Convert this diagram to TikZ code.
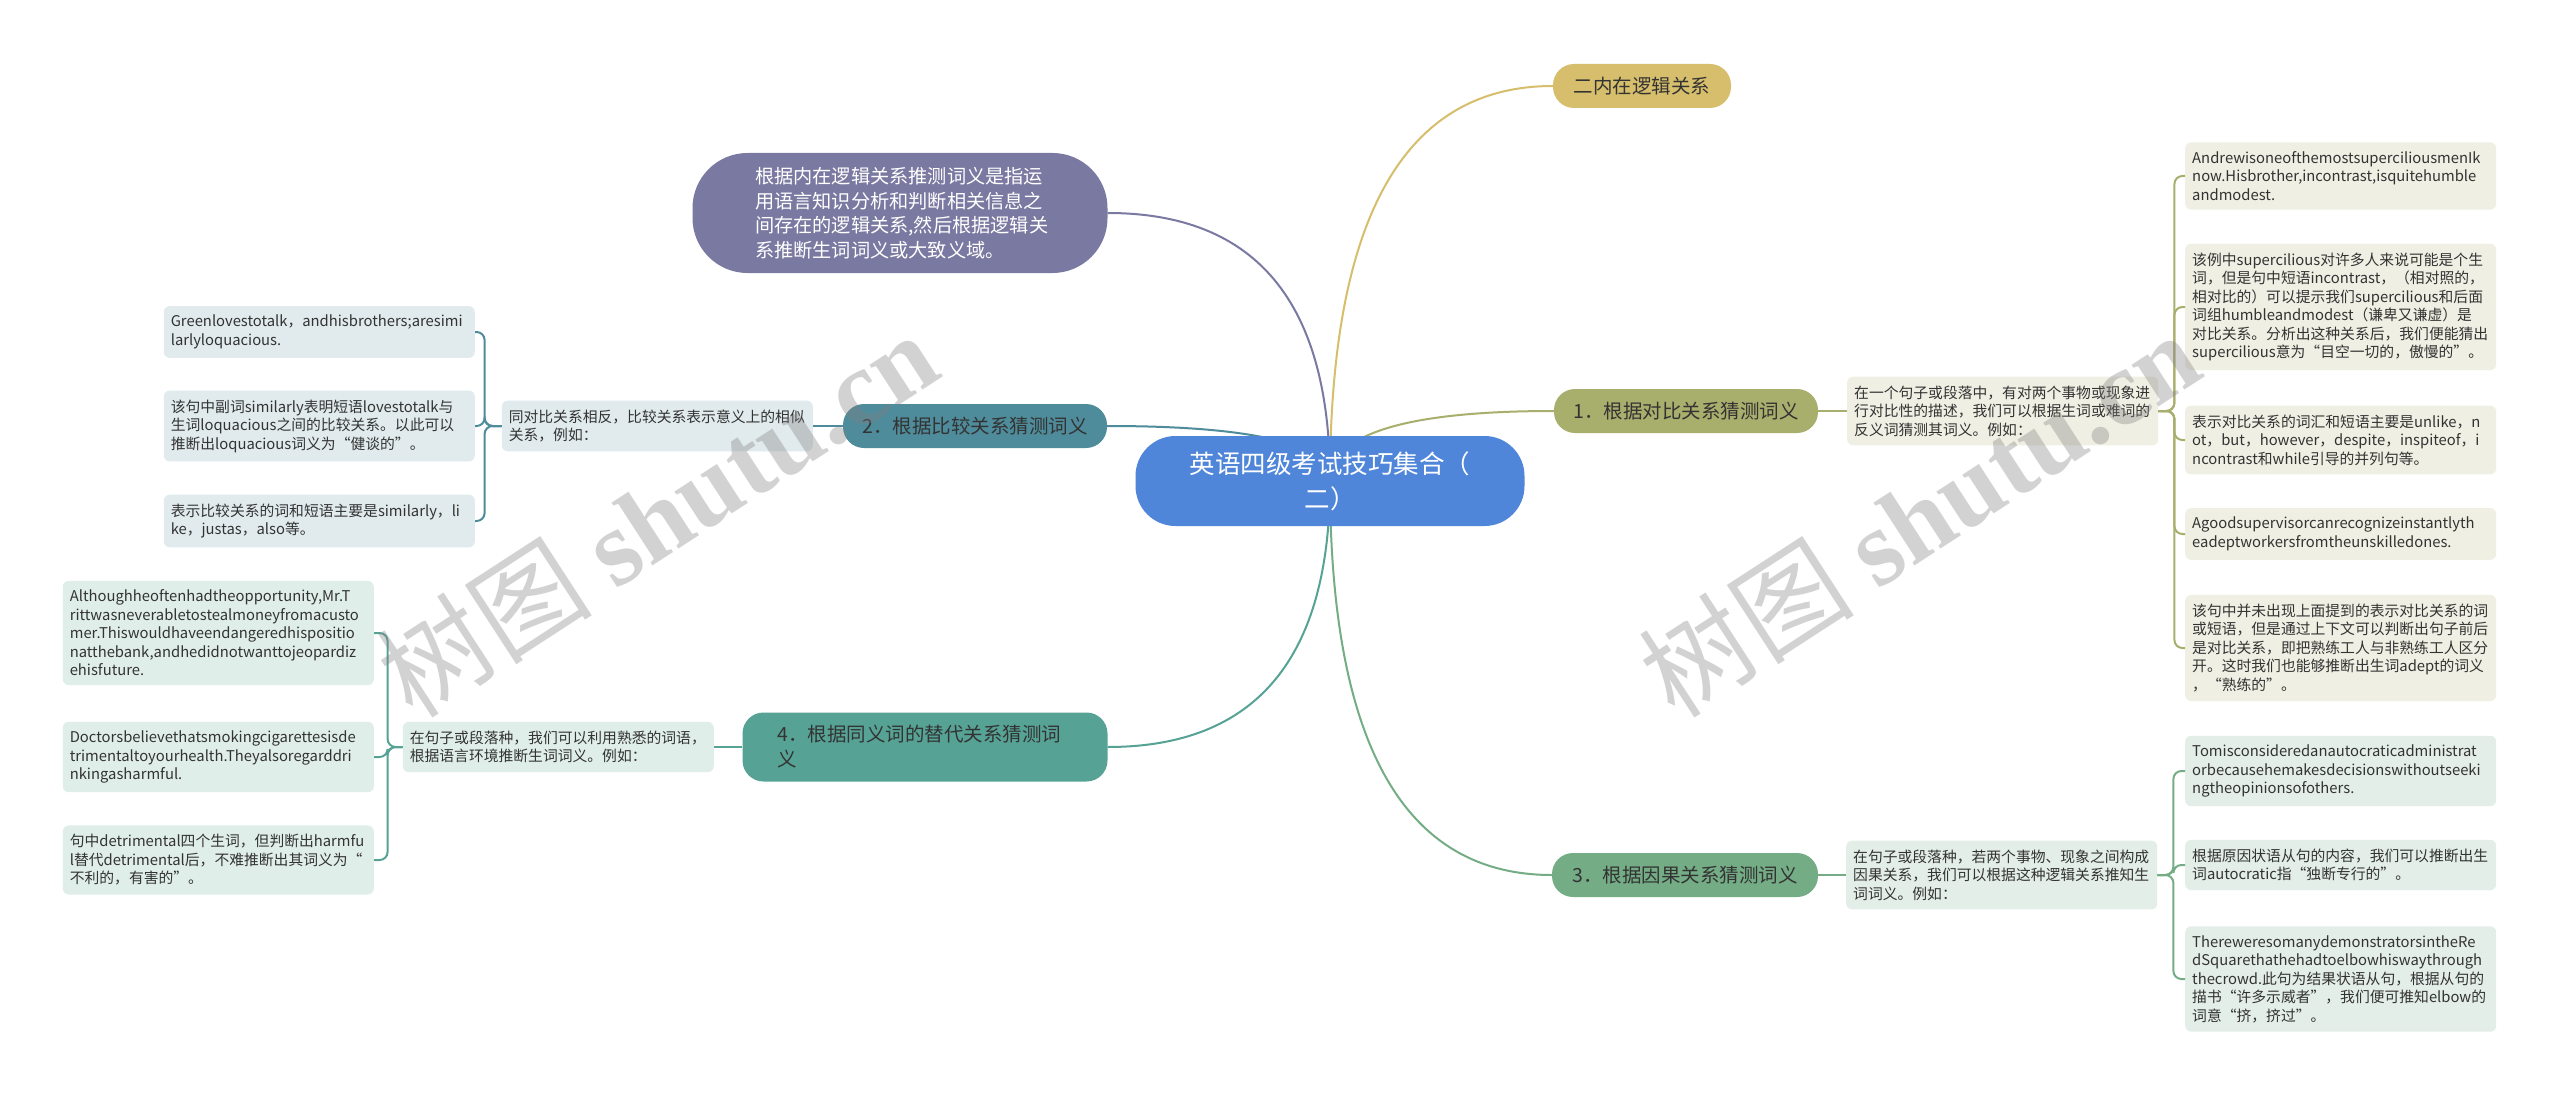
\documentclass[tikz,border=0pt]{standalone}
\usepackage{fontspec}
\setmainfont{Noto Sans CJK SC}
\newfontfamily\markfont{Liberation Serif}
\usetikzlibrary{calc,backgrounds}

\definecolor{rootblue}{RGB}{79,134,217}
\definecolor{slate}{RGB}{122,121,161}
\definecolor{sand}{RGB}{214,190,108}
\definecolor{moss}{RGB}{168,174,108}
\definecolor{seablue}{RGB}{79,140,155}
\definecolor{fern}{RGB}{116,173,133}
\definecolor{jade}{RGB}{86,163,150}
\definecolor{mossbg}{RGB}{239,239,227}
\definecolor{fernbg}{RGB}{228,238,233}
\definecolor{seabg}{RGB}{225,235,238}
\definecolor{jadebg}{RGB}{224,238,234}
\definecolor{ink}{RGB}{51,51,51}

\tikzset{
  topic/.style={rounded corners=21pt, minimum height=44pt, inner xsep=12pt, text=ink, font=\fontsize{19.5}{24}\selectfont},
  leaf/.style={rounded corners=6pt, inner xsep=7pt, inner ysep=9pt, text width=297pt, align=left, text=ink, font=\fontsize{14.8}{18.5}\selectfont},
  link/.style={line width=2pt},
  bracket/.style={line width=2pt, rounded corners=8pt},
  watermark/.style={rotate=33, opacity=.35, text=gray, font=\fontsize{108}{108}\selectfont},
}

\begin{document}
\begin{tikzpicture}[x=1pt,y=-1pt]
		\useasboundingbox (0,0) rectangle (2560,1097);
		% root
		\node[fill=rootblue, rounded corners=40pt, minimum width=389pt, minimum height=90pt, align=center, text=white, font=\fontsize{25.5}{35}\selectfont] (root) at (1330,481) {英语四级考试技巧集合（\\二）};
		% topics
		\node[topic, fill=sand, minimum width=178pt] (logic) at (1642,86) {二内在逻辑关系};
		\node[fill=slate, rounded corners=55pt, minimum width=415pt, minimum height=120pt, text width=290pt, align=left, text=white, font=\fontsize{19.2}{24.5}\selectfont] (define) at (900,213) {根据内在逻辑关系推测词义是指运\\用语言知识分析和判断相关信息之\\间存在的逻辑关系,然后根据逻辑关\\系推断生词词义或大致义域。};
		\node[topic, fill=moss, minimum width=264pt] (contrast) at (1686,411) {1．根据对比关系猜测词义};
		\node[topic, fill=seablue, minimum width=264pt] (compare) at (975,426) {2．根据比较关系猜测词义};
		\node[topic, fill=fern, minimum width=266pt] (cause) at (1685,875) {3．根据因果关系猜测词义};
		\node[topic, fill=jade, minimum width=365pt, minimum height=69pt, text width=295pt, align=left, font=\fontsize{19.5}{25}\selectfont] (synonym) at (925,747) {4．根据同义词的替代关系猜测词\\义};
		% 1. contrast
		\node[leaf, fill=mossbg, anchor=west] (c0) at (1847,411) {在一个句子或段落中，有对两个事物或现象进\\行对比性的描述，我们可以根据生词或难词的\\反义词猜测其词义。例如：};
		\node[leaf, fill=mossbg, anchor=west] (c1) at (2185,176) {AndrewisoneofthemostsuperciliousmenIk\\now.Hisbrother,incontrast,isquitehumble\\andmodest.};
		\node[leaf, fill=mossbg, anchor=west] (c2) at (2185,307) {该例中supercilious对许多人来说可能是个生\\词，但是句中短语incontrast，（相对照的，\\相对比的）可以提示我们supercilious和后面\\词组humbleandmodest（谦卑又谦虚）是\\对比关系。分析出这种关系后，我们便能猜出\\supercilious意为“目空一切的，傲慢的”。};
		\node[leaf, fill=mossbg, anchor=west] (c3) at (2185,440) {表示对比关系的词汇和短语主要是unlike，n\\ot，but，however，despite，inspiteof，i\\ncontrast和while引导的并列句等。};
		\node[leaf, fill=mossbg, anchor=west] (c4) at (2185,534) {Agoodsupervisorcanrecognizeinstantlyth\\eadeptworkersfromtheunskilledones.};
		\node[leaf, fill=mossbg, anchor=west] (c5) at (2185,648) {该句中并未出现上面提到的表示对比关系的词\\或短语，但是通过上下文可以判断出句子前后\\是对比关系，即把熟练工人与非熟练工人区分\\开。这时我们也能够推断出生词adept的词义\\，“熟练的”。};
		% 3. cause
		\node[leaf, fill=fernbg, anchor=west] (r0) at (1846,875) {在句子或段落种，若两个事物、现象之间构成\\因果关系，我们可以根据这种逻辑关系推知生\\词词义。例如：};
		\node[leaf, fill=fernbg, anchor=west] (r1) at (2185,771) {Tomisconsideredanautocraticadministrat\\orbecausehemakesdecisionswithoutseeki\\ngtheopinionsofothers.};
		\node[leaf, fill=fernbg, anchor=west] (r2) at (2185,865) {根据原因状语从句的内容，我们可以推断出生\\词autocratic指“独断专行的”。};
		\node[leaf, fill=fernbg, anchor=west] (r3) at (2185,979) {ThereweresomanydemonstratorsintheRe\\dSquarethathehadtoelbowhiswaythrough\\thecrowd.此句为结果状语从句，根据从句的\\描书“许多示威者”，我们便可推知elbow的\\词意“挤，挤过”。};
		% 2. compare
		\node[leaf, fill=seabg, anchor=east] (b0) at (813,426) {同对比关系相反，比较关系表示意义上的相似\\关系，例如：};
		\node[leaf, fill=seabg, anchor=east] (b1) at (475,332) {Greenlovestotalk，andhisbrothers;aresimi\\larlyloquacious.};
		\node[leaf, fill=seabg, anchor=east] (b2) at (475,426) {该句中副词similarly表明短语lovestotalk与\\生词loquacious之间的比较关系。以此可以\\推断出loquacious词义为“健谈的”。};
		\node[leaf, fill=seabg, anchor=east] (b3) at (475,521) {表示比较关系的词和短语主要是similarly，li\\ke，justas，also等。};
		% 4. synonym
		\node[leaf, fill=jadebg, anchor=east] (s0) at (714,747) {在句子或段落种，我们可以利用熟悉的词语，\\根据语言环境推断生词词义。例如：};
		\node[leaf, fill=jadebg, anchor=east] (s1) at (374,633) {Althoughheoftenhadtheopportunity,Mr.T\\rittwasneverabletostealmoneyfromacusto\\mer.Thiswouldhaveendangeredhispositio\\natthebank,andhedidnotwanttojeopardiz\\ehisfuture.};
		\node[leaf, fill=jadebg, anchor=east] (s2) at (374,757) {Doctorsbelievethatsmokingcigarettesisde\\trimentaltoyourhealth.Theyalsoregarddri\\nkingasharmful.};
		\node[leaf, fill=jadebg, anchor=east] (s3) at (374,860) {句中detrimental四个生词，但判断出harmfu\\l替代detrimental后，不难推断出其词义为“\\不利的，有害的”。};
		% curves from root
		\begin{scope}[on background layer]
		\fill[white] (0,0) rectangle (2560,1097);
		\foreach \kid/\side/\col in {logic/west/sand, define/east/slate, contrast/west/moss, compare/east/seablue, cause/west/fern, synonym/east/jade}
		\draw[link,\col] (root.center) .. controls ($(root.center)!.667!(root.center|-\kid.\side)$) and ($(\kid.\side)!.667!(root.center|-\kid.\side)$) .. (\kid.\side);
		\end{scope}
		% topic to detail
		\draw[link,moss] (contrast.east) -- (c0.west);
		\draw[link,fern] (cause.east) -- (r0.west);
		\draw[link,seablue] (compare.west) -- (b0.east);
		\draw[link,jade] (synonym.west) -- (s0.east);
		% detail to examples
		\foreach \leaf in {c1,c2,c3,c4,c5}
		\draw[bracket,moss] (c0.east) -- ++(16,0) |- (\leaf.west);
		\foreach \leaf in {r1,r2,r3}
		\draw[bracket,fern] (r0.east) -- ++(16,0) |- (\leaf.west);
		\foreach \leaf in {b1,b2,b3}
		\draw[bracket,seablue] (b0.west) -- ++(-17,0) |- (\leaf.east);
		\foreach \leaf in {s1,s2,s3}
		\draw[bracket,jade] (s0.west) -- ++(-15,0) |- (\leaf.east);
		% watermarks
		\node[watermark] (markleft) at (657,514) {树图 {\markfont\bfseries shutu.cn}};
		\node[watermark] (markright) at (1919,514) {树图 {\markfont\bfseries shutu.cn}};
\end{tikzpicture}
\end{document}
